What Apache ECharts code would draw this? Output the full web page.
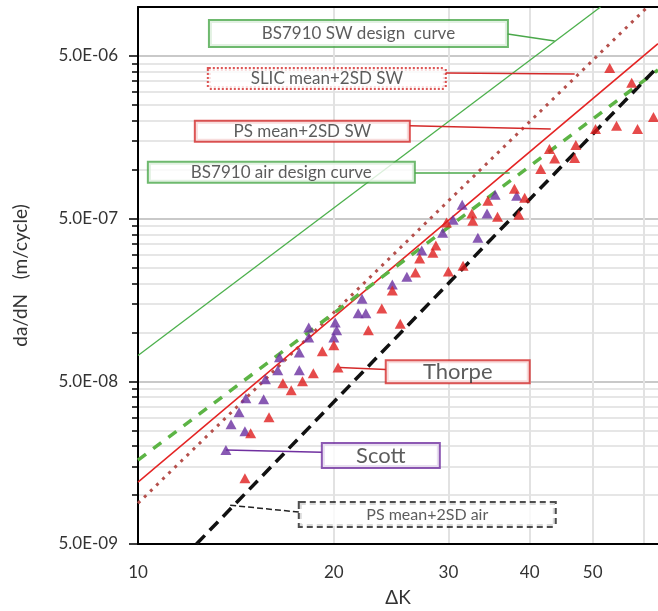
<!DOCTYPE html>
<html>
<head>
<meta charset="utf-8">
<script src="https://cdn.jsdelivr.net/npm/echarts@6/dist/echarts.min.js"></script>
<style>
  html, body { margin: 0; padding: 0; background: #fff; }
  #chart { width: 658px; height: 611px; }
</style>
</head>
<body>
<div id="chart"></div>
<script>
  // ΔK (MPa√m) / da/dN (m/cycle)
  const kGrid = [20, 30, 40, 50, 60];
  const kLabels = [10, 20, 30, 40, 50];
  const rateTicks = [5e-9, 5e-8, 5e-7, 5e-6];
  const rateTickText = ['5.0E-09', '5.0E-08', '5.0E-07', '5.0E-06'];
  const rateMinor = [
    1e-8, 1.5e-8, 2e-8, 2.5e-8, 3e-8, 3.5e-8, 4e-8, 4.5e-8,
    1e-7, 1.5e-7, 2e-7, 2.5e-7, 3e-7, 3.5e-7, 4e-7, 4.5e-7,
    1e-6, 1.5e-6, 2e-6, 2.5e-6, 3e-6, 3.5e-6, 4e-6, 4.5e-6
  ];

  // Scott (purple)
  const scottK = [13.65, 13.9, 14.3, 14.6, 14.65, 15.6, 15.7, 16.4, 16.5, 17.7, 17.7, 18.3, 18.3,
    20.1, 20.2, 20.0, 21.8, 22.4, 22.1, 24.6, 25.9, 27.3, 29.4, 30.5, 31.5, 34.4, 33.3, 35.4, 38.2];
  const scottRate = [1.89e-8, 2.72e-8, 3.23e-8, 2.47e-8, 3.93e-8, 3.88e-8, 5.14e-8, 5.84e-8, 7.02e-8, 5.84e-8, 7.53e-8, 1.07e-7, 9.31e-8,
    1.15e-7, 1.03e-7, 9.31e-8, 1.31e-7, 1.31e-7, 1.61e-7, 1.97e-7, 2.20e-7, 3.18e-7, 4.10e-7, 4.93e-7, 6.09e-7, 5.37e-7, 3.82e-7, 7.02e-7, 6.92e-7];

  // Thorpe (red)
  const thorpeK = [14.6, 14.9, 15.9, 16.7, 17.2, 17.9, 18.6, 19.2, 20.0, 20.3, 22.6, 23.7, 25.3, 24.6,
    26.7, 27.1, 28.4, 28.7, 29.8, 30.0, 31.6, 32.6, 32.7, 34.5, 35.7, 38.5, 37.9, 39.3,
    41.6, 42.9, 43.7, 47.1, 46.9, 50.5, 54.4, 58.6, 62.0, 53.1, 57.4];
  const thorpeRate = [1.27e-8, 2.40e-8, 3.01e-8, 4.86e-8, 4.40e-8, 5.00e-8, 5.60e-8, 7.64e-8, 8.32e-8, 6.09e-8, 1.03e-7, 1.40e-7, 1.13e-7, 1.81e-7,
    2.33e-7, 2.84e-7, 3.09e-7, 3.42e-7, 4.73e-7, 2.37e-7, 2.57e-7, 5.37e-7, 4.86e-7, 6.45e-7, 5.14e-7, 5.29e-7, 7.64e-7, 6.73e-7,
    1.01e-6, 1.34e-6, 1.17e-6, 1.42e-6, 1.18e-6, 1.78e-6, 1.86e-6, 1.78e-6, 2.11e-6, 4.22e-6, 3.42e-6];

  // design / mean+2SD curves
  const bsSwK = [10, 51.4],  bsSwRate = [7.2e-8, 1.0e-5];
  const slicK = [10, 60.7],  slicRate = [8.9e-9, 1.0e-5];
  const psSwK = [10, 63],    psSwRate = [1.2e-8, 5.95e-6];
  const bsAirK = [10, 63],   bsAirRate = [1.64e-8, 4.1e-6];
  const psAirK = [12.3, 63], psAirRate = [5.0e-9, 4.3e-6];

  const FONT = 'Lato';
  const TXT = '#333';

  function pairs(xs, ys) {
    return xs.map((x, i) => [x, ys[i]]);
  }

  // callout boxes: text, centre [ΔK, da/dN], box size, border, leader line
  const callouts = [
    { text: 'BS7910 SW design  curve', at: [21.82, 6.87e-6], w: 297, h: 25, color: '#4aa84a', type: 'solid', size: 17,
      leader: [[37.0, 6.82e-6], [43.7, 6.18e-6]] },
    { text: 'SLIC mean+2SD SW', at: [19.51, 3.64e-6], w: 236, h: 19, color: '#d42a2a', type: [2, 2], size: 17,
      leader: [[29.72, 3.93e-6], [46.9, 3.88e-6]] },
    { text: 'PS mean+2SD SW', at: [17.89, 1.72e-6], w: 213, h: 19, color: '#d42a2a', type: 'solid', size: 17,
      leader: [[26.17, 1.86e-6], [43.1, 1.78e-6]] },
    { text: 'BS7910 air design curve', at: [16.61, 9.65e-7], w: 265, h: 19, color: '#4aa84a', type: 'solid', size: 17,
      leader: [[26.64, 9.57e-7], [37.27, 9.57e-7]] },
    { text: 'Thorpe', at: [31.01, 5.72e-8], w: 142, h: 21, color: '#d42a2a', type: 'solid', size: 22,
      leader: [[24.04, 5.92e-8], [20.43, 6.09e-8]] },
    { text: 'Scott', at: [23.62, 1.75e-8], w: 116, h: 23, color: '#7030a0', type: 'solid', size: 22,
      leader: [[19.17, 1.83e-8], [13.65, 1.89e-8]] },
    { text: 'PS mean+2SD air', at: [27.84, 7.59e-9], w: 255, h: 23, color: '#222222', type: [6, 4], size: 16,
      leader: [[17.67, 7.86e-9], [13.75, 8.68e-9]] }
  ];

  const chart = echarts.init(document.getElementById('chart'));

  const option = {
    backgroundColor: '#fff',
    animation: false,
    grid: { left: 138, right: 0, top: 7, bottom: 67, containLabel: false, outerBoundsMode: 'none' },
    xAxis: [{
      type: 'log', logBase: 10, min: 10, max: 63,
      name: 'ΔK', nameLocation: 'middle', nameGap: 44,
      nameTextStyle: { fontFamily: FONT, fontSize: 19, color: TXT },
      axisLine: { show: true, lineStyle: { color: '#000', width: 2 } },
      axisTick: { show: false, customValues: kGrid },
      axisLabel: { customValues: kLabels, margin: 20, fontFamily: FONT, fontSize: 17, color: TXT,
        formatter: v => String(Math.round(v)) },
      splitLine: { show: true, lineStyle: { color: '#e2e2e2', width: 2 } },
      minorTick: { show: false }, minorSplitLine: { show: false }
    }, {
      type: 'log', logBase: 10, min: 10, max: 63, position: 'top',
      axisLine: { show: true, lineStyle: { color: '#000', width: 2 } },
      axisTick: { show: false }, axisLabel: { show: false }, splitLine: { show: false }
    }],
    yAxis: [{
      type: 'log', logBase: 10, min: 5e-9, max: 1e-5,
      name: 'da/dN   (m/cycle)', nameLocation: 'middle', nameGap: 108,
      nameTextStyle: { fontFamily: FONT, fontSize: 19, color: TXT },
      axisLine: { show: true, lineStyle: { color: '#000', width: 2 } },
      axisTick: { show: true, customValues: rateTicks, length: 9, lineStyle: { color: '#000', width: 1.5 } },
      axisLabel: { customValues: rateTicks, margin: 20, fontFamily: FONT, fontSize: 17, color: TXT,
        formatter: v => {
          const i = rateTicks.findIndex(t => Math.abs(t - v) / t < 1e-6);
          return i >= 0 ? rateTickText[i] : '';
        } },
      splitLine: { show: true, lineStyle: { color: '#c9c9c9', width: 2 } }
    }, {
      type: 'log', logBase: 10, min: 5e-9, max: 1e-5, position: 'left',
      axisLine: { show: false },
      axisTick: { show: true, customValues: rateMinor, length: 6, lineStyle: { color: '#000', width: 1.5 } },
      axisLabel: { show: false, customValues: rateMinor },
      splitLine: { show: true, lineStyle: { color: '#e6e6e6', width: 2 } }
    }],
    series: [
      { name: 'BS7910 SW design curve', type: 'line', data: pairs(bsSwK, bsSwRate), showSymbol: false,
        lineStyle: { color: '#4cb04c', width: 1.3 }, z: 3 },
      { name: 'SLIC mean+2SD SW', type: 'line', data: pairs(slicK, slicRate), showSymbol: false,
        lineStyle: { color: '#b5504c', width: 3, type: [3, 5.5] }, z: 3 },
      { name: 'PS mean+2SD SW', type: 'line', data: pairs(psSwK, psSwRate), showSymbol: false,
        lineStyle: { color: '#e42424', width: 1.5 }, z: 3 },
      { name: 'BS7910 air design curve', type: 'line', data: pairs(bsAirK, bsAirRate), showSymbol: false,
        lineStyle: { color: '#5cb445', width: 3.5, type: [10, 9] }, z: 3 },
      { name: 'PS mean+2SD air', type: 'line', data: pairs(psAirK, psAirRate), showSymbol: false,
        lineStyle: { color: '#111', width: 3.5, type: [12, 7] }, z: 4 },
      { name: 'Scott', type: 'scatter', data: pairs(scottK, scottRate), symbol: 'triangle', symbolSize: [11, 10],
        itemStyle: { color: '#6a2fa0' }, z: 5 },
      { name: 'Thorpe', type: 'scatter', data: pairs(thorpeK, thorpeRate), symbol: 'triangle', symbolSize: [11, 10],
        itemStyle: { color: '#e01e1e' }, z: 5 },
      {
        name: 'callouts', type: 'scatter', silent: true, z: 10,
        symbolSize: 1, itemStyle: { color: 'rgba(0,0,0,0)' },
        data: callouts.map(c => ({
          value: c.at,
          label: {
            show: true, position: 'inside', formatter: c.text,
            width: c.w, height: c.h, lineHeight: c.h, align: 'center', verticalAlign: 'middle',
            backgroundColor: '#fff', borderColor: c.color, borderWidth: 2, borderType: c.type,
            fontFamily: FONT, fontSize: c.size, color: TXT
          }
        })),
        markLine: {
          silent: true, symbol: ['none', 'none'], label: { show: false },
          data: callouts.map(c => [
            { coord: c.leader[0], lineStyle: { color: c.color, width: 1.5, type: Array.isArray(c.type) && c.color === '#222222' ? 'dashed' : 'solid' } },
            { coord: c.leader[1] }
          ])
        }
      }
    ]
  };

  chart.setOption(option);
</script>
</body>
</html>
